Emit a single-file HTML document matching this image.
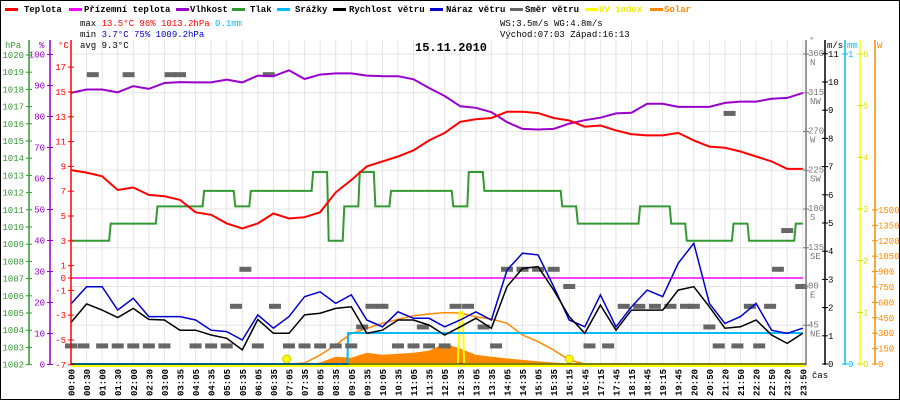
<!DOCTYPE html>
<html><head><meta charset="utf-8">
<style>
html,body{margin:0;padding:0;background:#fff;}
svg{display:block;}
text{font-family:"Liberation Mono",monospace;}
</style></head>
<body>
<svg id="chart" width="900" height="400" viewBox="0 0 900 400" xmlns="http://www.w3.org/2000/svg">
<rect x="0.5" y="0.5" width="899" height="399" fill="#fff" stroke="#000"/>
<g id="grid"></g>
<g id="series"></g>
<g id="axes"></g>
<g font-size="9" font-weight="bold">
  <g><rect x="5" y="8" width="13" height="3" fill="#f00"/><text x="24" y="12">Teplota</text></g>
  <g><rect x="69" y="8" width="13" height="3" fill="#f0f"/><text x="84" y="12">Přízemní teplota</text></g>
  <g><rect x="176" y="8" width="13" height="3" fill="#90c"/><text x="190" y="12">Vlhkost</text></g>
  <g><rect x="232" y="8" width="13" height="3" fill="#393"/><text x="250" y="12">Tlak</text></g>
  <g><rect x="277" y="8" width="13" height="3" fill="#0bf"/><text x="295" y="12">Srážky</text></g>
  <g><rect x="333" y="8" width="13" height="3" fill="#000"/><text x="349" y="12">Rychlost větru</text></g>
  <g><rect x="430" y="8" width="13" height="3" fill="#00c"/><text x="446" y="12">Náraz větru</text></g>
  <g><rect x="510" y="8" width="13" height="3" fill="#666"/><text x="525" y="12">Směr větru</text></g>
  <g><rect x="585" y="8" width="13" height="3" fill="#ff0"/><text x="599" y="12" fill="#ee0">UV index</text></g>
  <g><rect x="650" y="8" width="13" height="3" fill="#f80"/><text x="664" y="12" fill="#f80">Solar</text></g>
</g>
<g font-size="9">
  <text x="80" y="26">max <tspan fill="#f00">13.5°C  96%  1013.2hPa</tspan>   <tspan fill="#0bf">0.1mm</tspan></text>
  <text x="80" y="37">min  <tspan fill="#00c">3.7°C  75%  1009.2hPa</tspan></text>
  <text x="80" y="48">avg  9.3°C</text>
  <text x="500" y="26">WS:3.5m/s    WG:4.8m/s</text>
  <text x="500" y="37">Východ:07:03  Západ:16:13</text>
</g>
<text x="415" y="51" font-size="12" font-weight="bold">15.11.2010</text>
</svg>
<script>
const NS='http://www.w3.org/2000/svg';
const timeLabels=['00:00','00:30','01:00','01:30','02:00','02:30','03:00','03:35','04:05','04:35','05:05','05:35','06:05','06:35','07:05','07:35','08:05','08:35','09:05','09:35','10:05','10:35','11:05','11:35','12:05','12:35','13:05','13:35','14:05','14:35','15:05','15:35','16:15','16:45','17:15','17:45','18:15','18:45','19:15','19:45','20:20','20:50','21:20','21:50','22:20','22:50','23:20','23:50'];
const temperature=[8.7,8.5,8.2,7.1,7.3,6.7,6.6,6.3,5.3,5.1,4.4,4.0,4.4,5.2,4.8,4.9,5.3,6.9,7.9,9.0,9.4,9.8,10.3,11.1,11.7,12.6,12.8,12.9,13.4,13.4,13.3,12.9,12.7,12.2,12.3,11.9,11.6,11.5,11.5,11.7,11.1,10.6,10.5,10.2,9.8,9.4,8.8,8.8];
const apparentTemp=[0,0,0,0,0,0,0,0,0,0,0,0,0,0,0,0,0,0,0,0,0,0,0,0,0,0,0,0,0,0,0,0,0,0,0,0,0,0,0,0,0,0,0,0,0,0,0,0];
const humidity=[87.6,88.7,88.7,87.8,89.8,88.9,90.8,91.1,91,91,91.9,91,93.2,93,94.9,92.1,93.5,93.9,93.9,93.2,93,93,92,89.2,86.6,83.3,82.8,81.4,78.2,76,75.8,76,77.7,78.8,79.6,81,81.2,84.1,84.1,83.1,83.1,83.1,84.4,84.8,84.8,85.7,86,87.6];
const pressure=[1009.2,1009.2,1009.2,1010.2,1010.2,1010.2,1011.2,1011.2,1011.2,1012.1,1012.1,1011.2,1012.1,1012.1,1012.1,1012.1,1013.2,1009.2,1011.2,1013.2,1011.2,1012.1,1012.1,1012.1,1012.1,1011.2,1013.2,1012.1,1012.1,1012.1,1012.1,1012.1,1011.2,1010.2,1010.2,1010.2,1010.2,1011.2,1011.2,1010.2,1009.2,1009.2,1009.2,1010.2,1009.2,1009.2,1009.2,1010.2];
const windSpeed=[1.47,2.13,1.91,1.65,1.97,1.58,1.56,1.2,1.2,1.03,0.91,0.5,1.58,1.09,1.09,1.74,1.8,1.97,2.03,1.09,1.2,1.56,1.56,1.38,1.03,1.32,1.62,1.27,2.74,3.39,3.45,2.62,1.68,1.09,2.09,1.2,1.91,1.91,1.91,2.62,2.74,2.03,1.27,1.32,1.56,1.03,0.73,1.09];
const windGust=[2.13,2.74,2.74,1.91,2.33,1.68,1.68,1.68,1.56,1.2,1.15,0.85,1.74,1.27,1.68,2.39,2.56,2.15,2.45,1.56,1.32,1.85,1.62,1.62,1.32,1.56,1.85,1.56,3.33,3.93,3.87,2.74,1.56,1.32,2.45,1.32,2.03,2.62,2.39,3.57,4.28,2.15,1.44,1.68,2.15,1.2,1.09,1.27];
const dirTime=[0,0.8,1.4,2,3,3.7,4,5,6,6.4,7,8,9,10,10.6,11.2,12,12.7,13.1,14,15,16,17,18,18.7,19.3,20,21,22,22.6,23,24,24.7,25.5,26.5,27.3,28,29,30,31,32,33.3,34.5,35.5,36.5,37.5,38.5,39.5,40,41,41.6,42.3,42.8,43.6,44.2,44.9,45.4,46,46.9];
const dirDeg=[21,21,336,21,21,336,21,21,21,336,336,21,21,21,67,110,21,336,67,21,21,21,21,21,43,67,67,21,21,43,21,21,67,67,43,21,110,110,110,110,90,21,21,67,67,67,67,67,67,43,21,291,21,67,21,67,110,155,90];
const solarClear=[0,0,0,0,0,0,0,0,0,0,0,0,0,0,0,10,88,185,297,347,396,435,470,487,500,497,460,438,396,282,217,136,39,0,0,0,0,0,0,0,0,0,0,0,0,0,0,0];
const solarMeasured=[0,0,0,0,0,0,0,0,0,0,0,0,0,0,0,0,15,70,60,110,90,100,110,130,200,150,90,70,55,40,25,15,5,0,0,0,0,0,0,0,0,0,0,0,0,0,0,0];
const uvTime=[0,24.85,24.95,25.15,25.25,47];
const uvIndex=[0,0,1.0,1.0,0,0];
const precipTime=[0,17.75,17.8,47];
const precipitation=[0,0,0.1,0.1];
const sunEvents=[13.85,32];
const hpaTicks=[1020,1019,1018,1017,1016,1015,1014,1013,1012,1011,1010,1009,1008,1007,1006,1005,1004,1003,1002];
const humTicks=[100,90,80,70,60,50,40,30,20,10,0];
const tempTicks=[17,15,13,11,9,7,5,3,1,0,-1,-3,-5,-7];
const dirTicks=[360,315,270,225,180,135,90,45];
const dirNames=['N','NW','W','SW','S','SE','E','NE'];
const msTicks=[0,1,2,3,4,5,6,7,8,9,10,11];
const uvTicks=[0,1,2,3,4,5,6];
const wTicks=[0,150,300,450,600,750,900,1050,1200,1350,1500];

const X0=71,XS=15.57;
const xS=i=>X0+i*XS;
const yT=t=>278-12.4*t;
const yH=h=>364.5-3.1*h;
const yP=p=>55+(1020-p)*17.2;
const yW=v=>364-28.2*v;
const yD=d=>364-d*0.8611;
const ySol=w=>364-w*0.1027;
const yUV=u=>364-u*51.67;
const yMM=m=>364-m*310;

function el(tag,attrs,parent){const e=document.createElementNS(NS,tag);for(const k in attrs)e.setAttribute(k,attrs[k]);parent.appendChild(e);return e;}
const grid=document.getElementById('grid'),series=document.getElementById('series'),axes=document.getElementById('axes');

for(let i=0;i<timeLabels.length;i++){
  const l=el('line',{x1:xS(i),x2:xS(i),y1:40,y2:364,stroke:'#e4e4e4','stroke-width':1},grid);
  
  
}
dirTicks.forEach(d=>{
  const l=el('line',{x1:71,x2:806,y1:yD(d),y2:yD(d),stroke:'#e4e4e4','stroke-width':1},grid);
  
  
});

function pts(arr,fy){return arr.map((v,i)=>xS(i).toFixed(1)+','+fy(v).toFixed(1)).join(' ');}
function tpts(ts,arr,fy){return arr.map((v,i)=>xS(ts[i]).toFixed(1)+','+fy(v).toFixed(1)).join(' ');}
function stepPts(arr,fy){let s=[];arr.forEach((v,i)=>{s.push((xS(i)-(i?7:0)).toFixed(1)+','+fy(v).toFixed(1));s.push((xS(i)+(i<arr.length-1?7:0)).toFixed(1)+','+fy(v).toFixed(1));});return s.join(' ');}

{
  let d='M'+xS(0)+','+ySol(0);
  solarMeasured.forEach((v,i)=>{d+=' L'+xS(i).toFixed(1)+','+ySol(v).toFixed(1);});
  d+=' L'+xS(solarMeasured.length-1)+','+ySol(0)+' Z';
  const a=el('path',{d:d,fill:'#f80',stroke:'none'},series);
  
  
}
{
  const l=el('polyline',{points:pts(solarClear,ySol),fill:'none',stroke:'#f80','stroke-width':1.5},series);
  
  
}
{
  const l=el('polyline',{points:tpts(uvTime,uvIndex,yUV),fill:'none',stroke:'#ff0','stroke-width':2},series);
  
  
}
{
  const l=el('polyline',{points:tpts(precipTime,precipitation,yMM),fill:'none',stroke:'#0bf','stroke-width':2},series);
  
  
}
dirTime.forEach((t,k)=>{
  const r=el('rect',{x:xS(t)-6,y:yD(dirDeg[k])-2.5,width:12,height:5,fill:'#666'},series);
  
  
});
{
  const l=el('polyline',{points:stepPts(pressure,yP),fill:'none',stroke:'#393','stroke-width':2},series);
  
  
}
{
  const l=el('polyline',{points:pts(apparentTemp,yT),fill:'none',stroke:'#f0f','stroke-width':1.5},series);
  
  
}
{
  const l=el('polyline',{points:pts(windGust,yW),fill:'none',stroke:'#00c','stroke-width':1.5},series);
  
  
}
{
  const l=el('polyline',{points:pts(windSpeed,yW),fill:'none',stroke:'#000','stroke-width':1.5},series);
  
  
}
{
  const l=el('polyline',{points:pts(humidity,yH),fill:'none',stroke:'#90c','stroke-width':2},series);
  
  
}
{
  const l=el('polyline',{points:pts(temperature,yT),fill:'none',stroke:'#f00','stroke-width':2},series);
  
  
}
sunEvents.forEach(t=>{
  const c=el('circle',{cx:xS(t),cy:359,r:4,fill:'#ff0',stroke:'#cc0','stroke-width':1},series);
  
  
});

function vaxis(x,color,name){const l=el('line',{x1:x,x2:x,y1:40,y2:365,stroke:color,'stroke-width':1.5},axes);}
function tlabel(x,y,txt,color,anchor,name){const t=el('text',{x:x,y:y,fill:color,'font-size':9,'text-anchor':anchor},axes);t.textContent=txt;return t;}
function tick(x1,x2,y,color){el('line',{x1:x1,x2:x2,y1:y,y2:y,stroke:color,'stroke-width':1},axes);}
vaxis(29,'#393','pressure-axis');vaxis(50,'#90c','humidity-axis');vaxis(71,'#f00','temperature-axis');
vaxis(806,'#777','direction-axis');vaxis(825,'#000','wind-speed-axis');vaxis(845,'#0bf','precipitation-axis');vaxis(860,'#ff0','uv-axis');vaxis(875,'#f80','solar-axis');
hpaTicks.forEach(p=>{tick(26,32,yP(p),'#393');tlabel(24,yP(p)+3,String(p),'#393','end','pressure-tick-label');});
humTicks.forEach(h=>{tick(47,53,yH(h),'#90c');tlabel(45,yH(h)+3,String(h),'#90c','end','humidity-tick-label');});
tempTicks.forEach(t=>{tick(68,74,yT(t),'#f00');tlabel(66,yT(t)+3,String(t),'#f00','end','temperature-tick-label');});
dirTicks.forEach((d,k)=>{tick(803,809,yD(d),'#777');tlabel(808,yD(d)+2,String(d),'#777','start','direction-tick-label');tlabel(810,yD(d)+11,dirNames[k],'#777','start','direction-name-label');});
msTicks.forEach(v=>{tick(822,828,yW(v),'#000');tlabel(828,yW(v)+3,String(v),'#000','start','wind-tick-label');});
[0,1].forEach(m=>{tick(842,848,yMM(m),'#0bf');tlabel(848,yMM(m)+3,String(m),'#0bf','start','precipitation-tick-label');});
uvTicks.forEach(u=>{tick(857,863,yUV(u),'#dd0');tlabel(863,yUV(u)+3,String(u),'#dd0','start','uv-tick-label');});
wTicks.forEach(w=>{tick(872,878,ySol(w),'#f80');tlabel(878,ySol(w)+3,String(w),'#f80','start','solar-tick-label');});
tlabel(5,48,'hPa','#393','start','pressure-unit');tlabel(39,48,'%','#90c','start','humidity-unit');tlabel(58,48,'°C','#f00','start','temperature-unit');
tlabel(809,43,'°','#777','start','direction-unit');tlabel(827,48,'m/s','#000','start','wind-unit');tlabel(847,48,'mm','#0bf','start','precipitation-unit');tlabel(877,48,'W','#f80','start','solar-unit');
tlabel(812,378,'čas','#000','start','time-axis-title');
el('line',{x1:71,x2:806,y1:364,y2:364,stroke:'#000','stroke-width':1},axes);
el('line',{x1:71,x2:806,y1:366,y2:366,stroke:'#ff0','stroke-width':2},axes);
timeLabels.forEach((s,i)=>{
  const t=el('text',{x:0,y:0,'font-size':9,'font-weight':'bold',fill:'#000',transform:'translate('+(xS(i)+3.5)+',396) rotate(-90)'},axes);
  t.textContent=s;
  
  
});
</script>
</body></html>
